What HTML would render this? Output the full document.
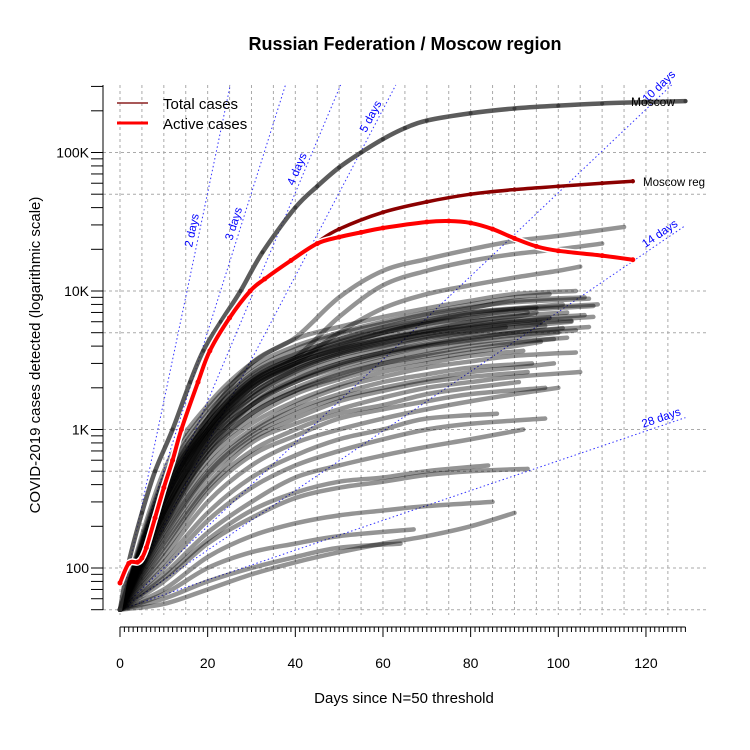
<!DOCTYPE html>
<html><head><meta charset="utf-8">
<style>
html,body{margin:0;padding:0;background:#fff;}
svg{display:block;font-family:"Liberation Sans",sans-serif;}
</style></head>
<body>
<svg id="chart" width="750" height="750" viewBox="0 0 750 750">
<text x="405" y="50" text-anchor="middle" font-size="18" font-weight="bold">Russian Federation / Moscow region</text>
<text x="404" y="703" text-anchor="middle" font-size="15">Days since N=50 threshold</text>
<text transform="translate(40,355) rotate(-90)" text-anchor="middle" font-size="15">COVID-2019 cases detected (logarithmic scale)</text>
<g id="grid"></g>
<g id="refs"></g>
<g id="series"></g>
<g id="axes"></g>
<g>
<line x1="117" y1="103" x2="148" y2="103" stroke="#8b2020" stroke-width="1.5"/>
<text x="163" y="109" font-size="15">Total cases</text>
<line x1="117" y1="123" x2="148" y2="123" stroke="#ff0000" stroke-width="3"/>
<text x="163" y="129" font-size="15">Active cases</text>
</g>
</svg>
<script>
// ---- data ----
const moscowDays = [0,2,5,8,12,16,19,23,27.5,32.5,40,45,50,55,60,65,70,80,90,100,110,120,129];
const moscowTotal = [50,110,250,500,1000,2200,3700,6000,10000,19000,40000,57000,78000,100000,125000,150000,170000,192000,208000,218000,226000,231000,235000];
const regionDays = [0,2,4,5,6,8,10,12,14,17.8,20.5,25,29.7,33,39,45,50,60,70,80,90,100,110,117];
const regionTotal = [78,108,110,118,140,230,380,600,1000,2200,3700,6400,10000,12200,16600,22500,28000,37000,44000,50000,54000,57000,60000,62000];
const activeDays = [0,2,4,5,6,8,10,12,14,17.8,20.5,25,29.7,33,39,45,50,55,60,70,75,80,85,90,95,100,110,117];
const activeCases = [78,108,110,118,140,230,380,600,1000,2200,3700,6400,10000,12200,16600,22000,24500,26500,28500,31500,32000,31000,28000,24000,21000,19500,18000,16800];
// other regions: values every 10 days starting at day 0; last value is at the series' end day
const regionStep = 10;
const otherRegions = [
[50,300,1200,3000,4600,9000,14000,17000,20000,23000,25000,29000],
[50,280,1000,2200,3300,6500,11000,14000,16500,18500,20000,22000],
[50,250,900,2000,3000,5000,7500,9500,11000,12500,14000,15000],
[50,500,1500,3000,4500,5500,6500,7500,8500,9500,10000],
[50,450,1400,2800,4000,5000,6000,7000,8000,9000,9500],
[50,400,1200,2500,3500,4500,5500,6500,7500,8500,9000],
[50,380,1100,2200,3200,4000,5000,6000,7000,7500,8000],
[50,350,1000,2000,3000,3800,4500,5200,6000,6500,7000],
[50,330,950,1800,2700,3500,4200,4900,5500,6000,6500],
[50,300,900,1700,2500,3200,3800,4500,5000,5500,6000],
[50,280,850,1600,2300,3000,3600,4200,4800,5200,5600],
[50,260,800,1500,2200,2800,3400,4000,4500,5000,5500],
[50,250,750,1400,2000,2600,3200,3700,4200,4600,5000],
[50,240,700,1300,1900,2400,3000,3500,4000,4300,4600],
[50,220,650,1200,1800,2300,2800,3200,3600,4000,4300],
[50,200,600,1100,1600,2100,2600,3000,3400,3700],
[50,190,550,1000,1500,2000,2400,2800,3100,3400,3600],
[50,180,500,950,1400,1800,2200,2500,2800,3000],
[50,170,480,900,1300,1700,2000,2300,2600,2800,3000],
[50,160,450,850,1200,1600,1900,2200,2400,2600],
[50,150,400,800,1100,1400,1700,2000,2200,2400,2600],
[50,140,380,700,1000,1300,1500,1800,2000,2200],
[50,130,350,650,900,1200,1400,1600,1800,2000],
[50,420,1300,2600,3800,4900,5800,6800,7600,8300,8800],
[50,380,1200,2400,3500,4500,5400,6200,7000,7600],
[50,360,1100,2300,3300,4300,5200,6000,6800,7400,8000],
[50,340,1050,2200,3200,4100,5000,5800,6400,7000],
[50,320,1000,2100,3000,3900,4700,5400,6000,6600,7000],
[50,300,950,2000,2900,3700,4400,5100,5700,6200,6700],
[50,300,1000,2100,3000,3800,4500,5100,5600,6000,6400],
[50,270,900,1900,2800,3600,4300,4900,5400,5800,6100],
[50,230,800,1700,2600,3400,4000,4600,5100,5500],
[50,200,700,1500,2300,3000,3600,4100,4600,5000,5400],
[50,350,1100,2300,3300,4200,5000,5800,6500,7200,7800],
[50,250,850,1800,2700,3500,4100,4700,5200,5600,5900],
[50,230,750,1500,2200,2900,3500,4000,4400,4800,5200],
[50,210,650,1300,1900,2500,3000,3400,3800,4200,4500],
[50,120,300,550,800,1000,1200,1400,1600,1800,2000],
[50,110,250,450,650,850,1000,1200,1300],
[50,100,220,380,550,700,850,1000,1100,1200],
[50,90,180,300,450,550,650,750,850,1000],
[50,80,150,230,320,380,420,470,500,520],
[50,70,120,170,210,240,260,280,300],
[50,65,100,130,150,170,190],
[50,60,80,100,120,140,150],
[50,55,70,90,110,130,150,170,200,250],
[50,85,160,260,350,420,450,500,550]
];
const regionEndDays = [115,110,105,104,98,106,101,95,108,103,97,107,100,102,96,92,104,94,99,93,105,91,97,
                       107,95,109,93,102,106,98,103,88,101,108,96,104,99,100,86,97,92,93,85,67,64,77,84];
const doublingDays = [2,3,4,5,10,14,28];
const doublingLabels = ["2 days","3 days","4 days","5 days","10 days","14 days","28 days"];
const yTickValues = [100,1000,10000,100000];
const yTickLabels = ["100","1K","10K","100K"];
const xTickValues = [0,20,40,60,80,100,120];

// ---- scales ----
const NS = "http://www.w3.org/2000/svg";
const X0 = 120, PXD = 4.383, Y100 = 568, DEC = 138.5;
const xs = d => X0 + d * PXD;
const ys = v => Y100 - (Math.log10(v) - 2) * DEC;
function mk(tag, attrs, parent){const e=document.createElementNS(NS,tag);for(const k in attrs)e.setAttribute(k,attrs[k]);parent.appendChild(e);return e;}

const grid = document.getElementById('grid');
[50,100,500,1000,5000,10000,50000,100000].forEach(v=>{
  const l=mk('line',{x1:103,x2:708,y1:ys(v),y2:ys(v),stroke:'#aaa','stroke-dasharray':'3,3'},grid);
  
  
});
for(let d=0; d<=125; d+=5){
  const l=mk('line',{x1:xs(d),x2:xs(d),y1:85,y2:615,stroke:'#aaa','stroke-dasharray':'3,3'},grid);
  
  
}

// doubling reference lines
const refs = document.getElementById('refs');
const topV = Math.pow(10, 2 + (Y100-85)/DEC);
const labelY = [232,226,172,120,92,240,425];
doublingDays.forEach((dd,i)=>{
  let tEnd = Math.min(129, dd*Math.log2(topV/50));
  const l=mk('line',{x1:xs(0),y1:ys(50),x2:xs(tEnd),y2:ys(50*Math.pow(2,tEnd/dd)),stroke:'#3333ff','stroke-dasharray':'1.5,2.5','stroke-width':1},refs);
  
  
  const v = Math.pow(10, 2 + (Y100-labelY[i])/DEC);
  const tt = dd*Math.log2(v/50);
  const ang = -Math.atan((DEC*Math.log10(2)/dd)/PXD)*180/Math.PI;
  const lx = xs(tt), ly = labelY[i];
  const t=mk('text',{x:0,y:-4,fill:'#0000ff','font-size':11.5,'text-anchor':'middle',transform:`translate(${lx},${ly}) rotate(${ang})`},refs);
  t.textContent = doublingLabels[i];
  
  
});

// series
const sg = document.getElementById('series');
function smoothPath(P){
  let d='M'+P[0][0]+','+P[0][1];
  for(let i=0;i<P.length-1;i++){
    const p0=P[Math.max(0,i-1)],p1=P[i],p2=P[i+1],p3=P[Math.min(P.length-1,i+2)];
    const c1x=p1[0]+(p2[0]-p0[0])/6,c1y=p1[1]+(p2[1]-p0[1])/6;
    const c2x=p2[0]-(p3[0]-p1[0])/6,c2y=p2[1]-(p3[1]-p1[1])/6;
    d+=` C${c1x},${c1y} ${c2x},${c2y} ${p2[0]},${p2[1]}`;
  }
  return d;
}
function drawLine(days, vals, color, width, op, r, name){
  const P = days.map((d,i)=>[xs(d),ys(vals[i])]);
  const p=mk('path',{d:smoothPath(P),fill:'none',stroke:color,'stroke-width':width,'stroke-opacity':op,'stroke-linejoin':'round','stroke-linecap':'round'},sg);
  
  
  if(r>0){
    days.forEach((d,i)=>{
      const c=mk('circle',{cx:xs(d),cy:ys(vals[i]),r:r,fill:color,'fill-opacity':op},sg);
      
      
    });
  }
}
otherRegions.forEach((vals,k)=>{
  const days = vals.map((v,i)=>i*regionStep);
  const endD = regionEndDays[k];
  if(endD!==undefined && endD>days[days.length-2]) days[days.length-1]=endD;
  drawLine(days, vals, '#000', 4.5, 0.42, 0, 'region-line-'+k);
});
drawLine(moscowDays, moscowTotal, '#333', 4.5, 0.8, 2, 'moscow-total-line');
drawLine(regionDays, regionTotal, '#8b0000', 3.5, 1, 2.2, 'moscow-region-total-line');
drawLine(activeDays, activeCases, '#ffffff', 7, 1, 0, 'moscow-region-active-halo');
drawLine(activeDays, activeCases, '#ff0000', 4, 1, 2.5, 'moscow-region-active-line');

const ml=mk('text',{x:631,y:106,'font-size':12},sg); ml.textContent='Moscow';


const rl=mk('text',{x:643,y:186,'font-size':11.5},sg); rl.textContent='Moscow reg';



// axes
const ax = document.getElementById('axes');
const ya=mk('line',{x1:103,x2:103,y1:85,y2:610,stroke:'#000'},ax);


for(let e=1;e<=5;e++){for(let m=1;m<=9;m++){
  const v=m*Math.pow(10,e); if(v<50||v>300000) continue;
  const t=mk('line',{x1:91,x2:103,y1:ys(v),y2:ys(v),stroke:'#000'},ax);
  
  
}}
yTickValues.forEach((v,i)=>{
  const t=mk('text',{x:89,y:ys(v)+5,'text-anchor':'end','font-size':14},ax);
  t.textContent=yTickLabels[i];
  
  
});
const xa=mk('line',{x1:xs(0),x2:xs(129),y1:627,y2:627,stroke:'#000'},ax);


for(let d=0;d<=129;d++){
  const major = d%20===0;
  const t=mk('line',{x1:xs(d),x2:xs(d),y1:627,y2:major?637:632,stroke:'#000'},ax);
  
  
}
xTickValues.forEach(v=>{
  const t=mk('text',{x:xs(v),y:668,'text-anchor':'middle','font-size':14},ax);
  t.textContent=String(v);
  
  
});
</script>
</body></html>
